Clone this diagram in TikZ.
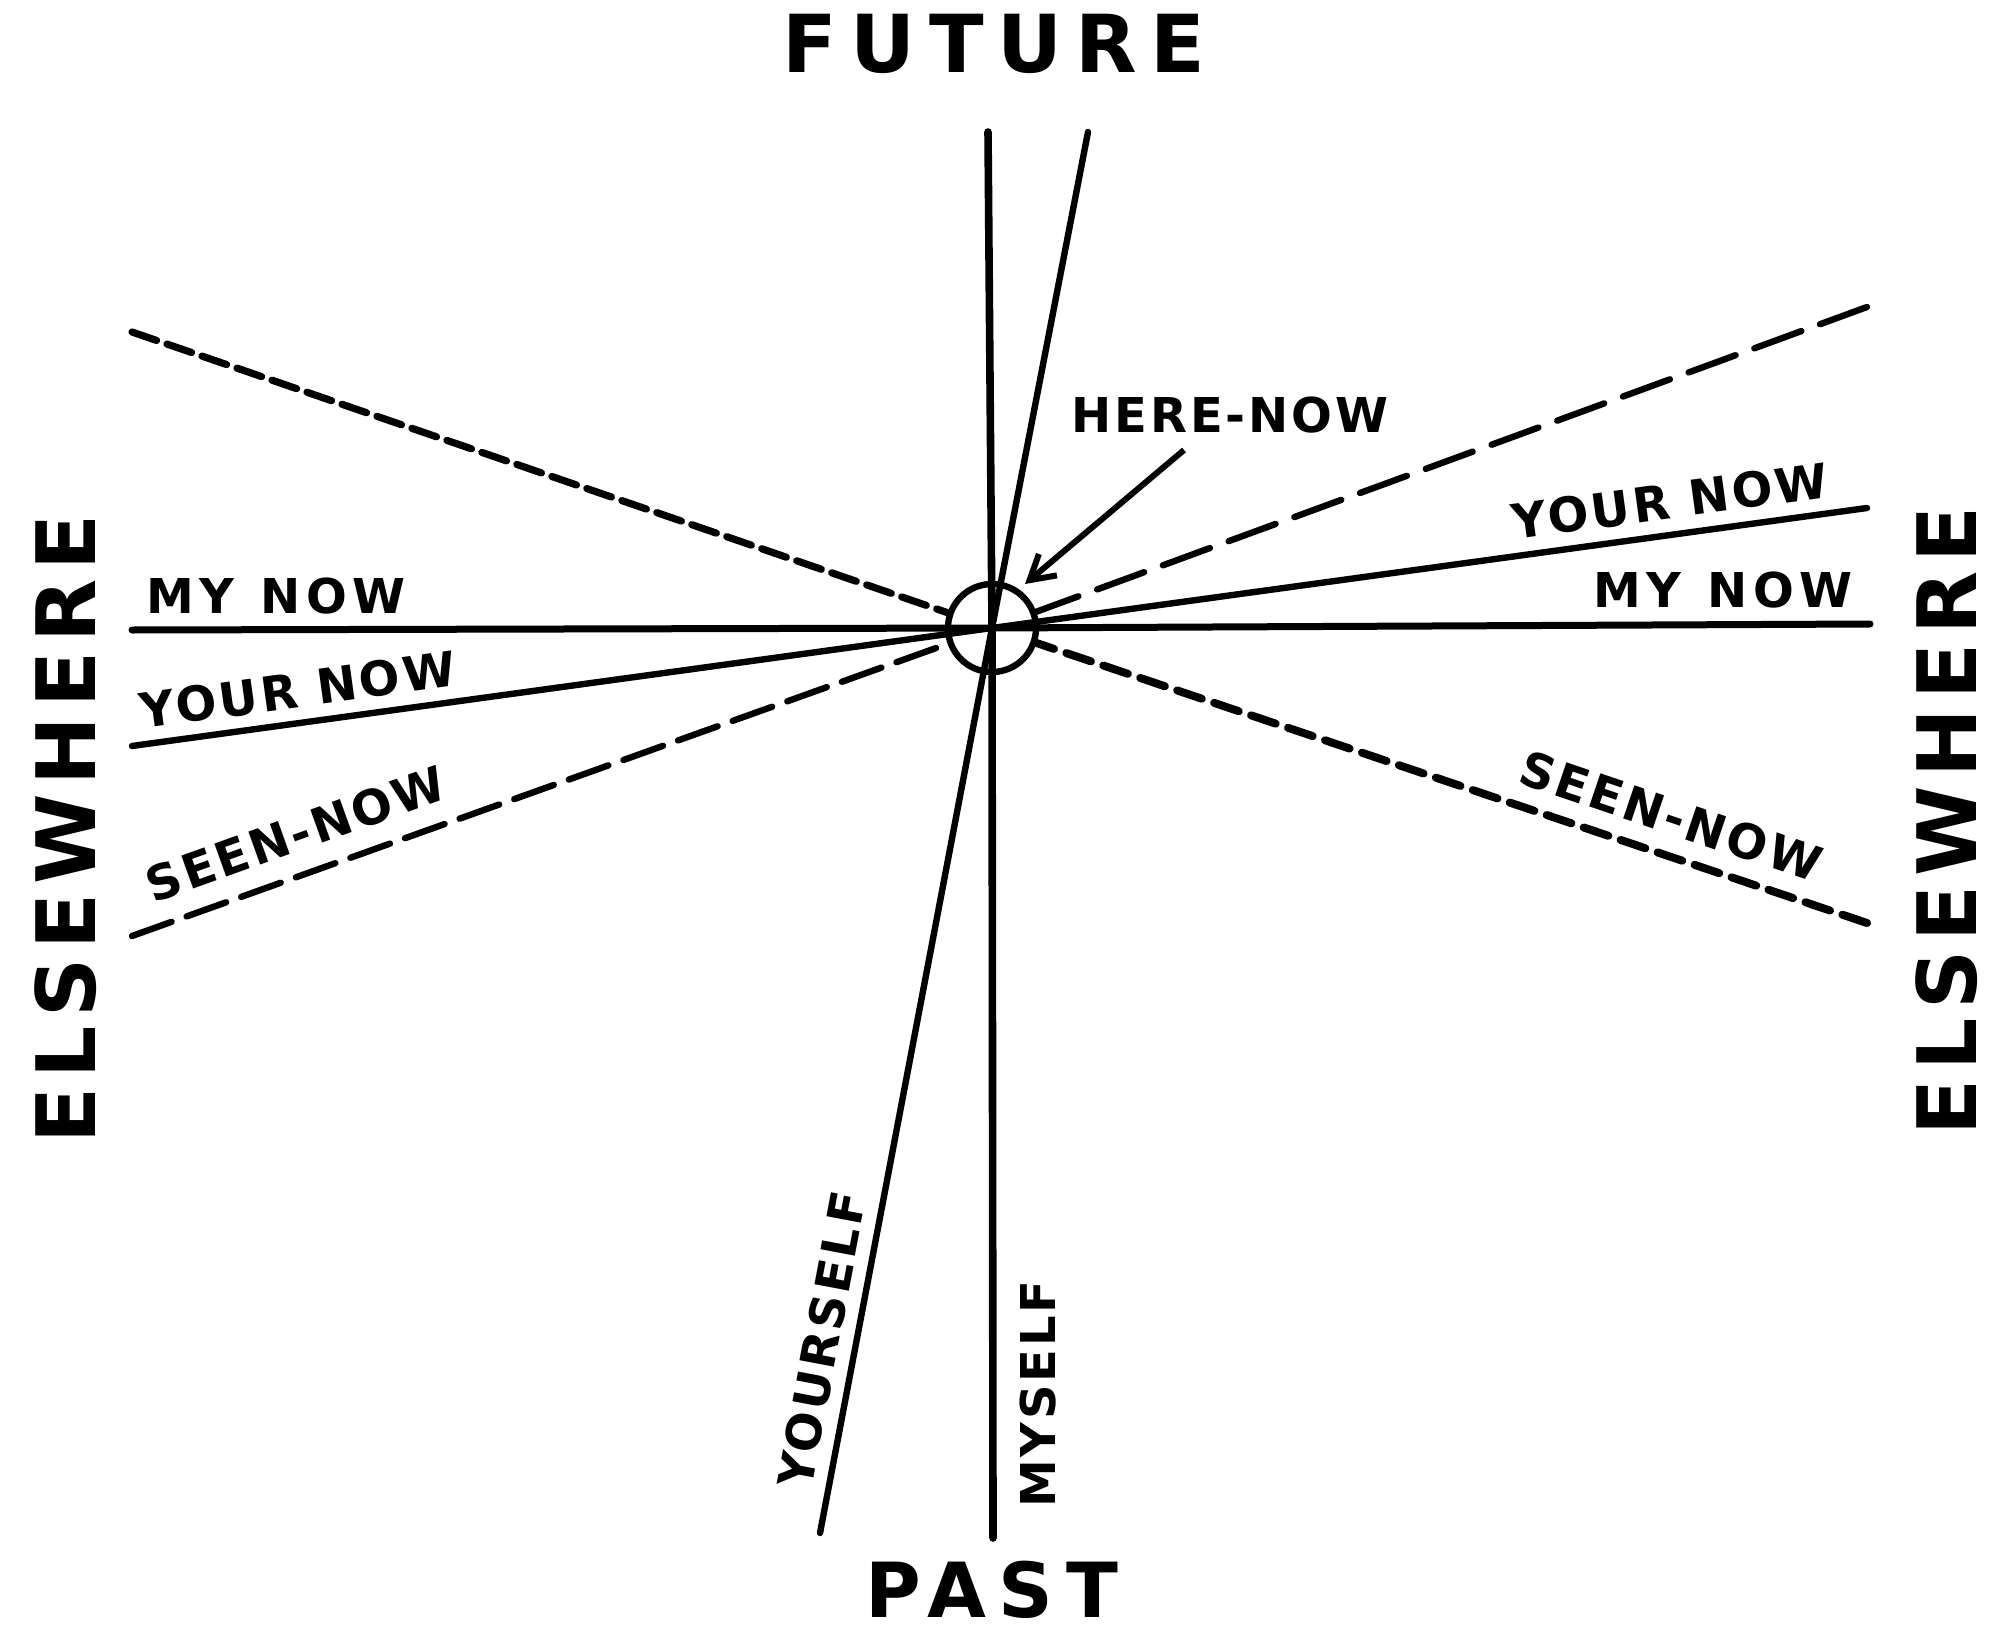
\documentclass[tikz,border=0pt]{standalone}
\usepackage{fontspec}
\usetikzlibrary{arrows.meta}
\newfontfamily\bigfont[LetterSpace=17]{DejaVu Sans}
\newfontfamily\elsefont[LetterSpace=11]{DejaVu Sans}
\newfontfamily\labfont[LetterSpace=6]{DejaVu Sans}
\newfontfamily\mynowfont[LetterSpace=12]{DejaVu Sans}
\begin{document}
\begin{tikzpicture}[x=0.5pt,y=-0.5pt,
  solidline/.style={line width=3.5pt,line cap=round},
  dashline/.style={line width=3.2pt,line cap=round},
  bigtext/.style={font=\bigfont\bfseries\fontsize{40}{48}\selectfont,inner sep=0pt},
  elsetext/.style={font=\elsefont\bfseries\fontsize{41}{48}\selectfont,inner sep=0pt,rotate=90},
  labtext/.style={font=\labfont\bfseries\fontsize{24}{28}\selectfont,inner sep=0pt},
  mynowtext/.style={font=\mynowfont\bfseries\fontsize{24}{28}\selectfont,inner sep=0pt},
  ringstyle/.style={circle,draw,line width=3.2pt,minimum size=44pt,inner sep=0pt}
]
\useasboundingbox (0,0) rectangle (2000,1647);
% centre
\coordinate (c) at (992,628);
\node[ringstyle] (here) at (c) {};
% end points
\coordinate (mytop) at (988,132);
\coordinate (mybot) at (993,1538);
\coordinate (yourtop) at (1088,132);
\coordinate (yourbot) at (820,1533);
\coordinate (mynowL) at (132,630);
\coordinate (mynowR) at (1870,624);
\coordinate (yournowL) at (132,746);
\coordinate (yournowR) at (1867,508);
\coordinate (seenL) at (132,936);
\coordinate (seenR) at (1867,923);
\coordinate (upL) at (132,332);
\coordinate (upR) at (1867,307);
% world lines
\draw[solidline,line width=3.8pt] (mytop) -- (c) -- (mybot);
\draw[solidline,line width=3.2pt] (yourtop) -- (c) -- (yourbot);
% now lines
\draw[solidline] (mynowL) -- (c) -- (mynowR);
\draw[solidline,line width=3.2pt] (yournowL) -- (c) -- (yournowR);
% light cone (dashed)
\draw[dashline,line width=3.6pt,dash pattern=on 13pt off 5.5pt] (upL) -- (here);
\draw[dashline,dash pattern=on 25pt off 10pt] (upR) -- (here);
\draw[dashline,dash pattern=on 21pt off 8pt] (seenL) -- (here);
\draw[dashline,line width=4pt,dash pattern=on 13pt off 6.5pt] (seenR) -- (here);
% here-now arrow
\node[labtext] (hn) at (1230,415) {HERE-NOW};
\coordinate (hnstart) at (1184,450);
\coordinate (hntip) at (1025,584);
\draw[line width=3pt,-{Straight Barb[length=12pt,width=14pt,line width=3pt]}] (hnstart) -- (hntip);
% big labels
\node[bigtext] (future) at (994,44) {FUTURE};
\node[bigtext,font=\bigfont\bfseries\fontsize{38}{46}\selectfont] (past) at (992,1590) {PAST};
\node[elsetext] (elseL) at (66,829) {ELSEWHERE};
\node[elsetext] (elseR) at (1947,821) {ELSEWHERE};
% line labels
\node[mynowtext] (lmy) at (276,596) {MY\hspace{13pt}NOW};
\node[labtext,rotate=7.8] (lyour) at (298,690) {YOUR NOW};
\node[labtext,rotate=19.7] (lseen) at (296,834) {SEEN-NOW};
\node[labtext,rotate=7.75] (ryour) at (1670,501) {YOUR NOW};
\node[mynowtext] (rmy) at (1723,590) {MY\hspace{13pt}NOW};
\node[labtext,rotate=-18.7] (rseen) at (1671,816) {SEEN-NOW};
\node[labtext,rotate=79.3] (yself) at (822,1340) {YOURSELF};
\node[labtext,rotate=90] (mself) at (1038,1394) {MYSELF};
\end{tikzpicture}
\end{document}
